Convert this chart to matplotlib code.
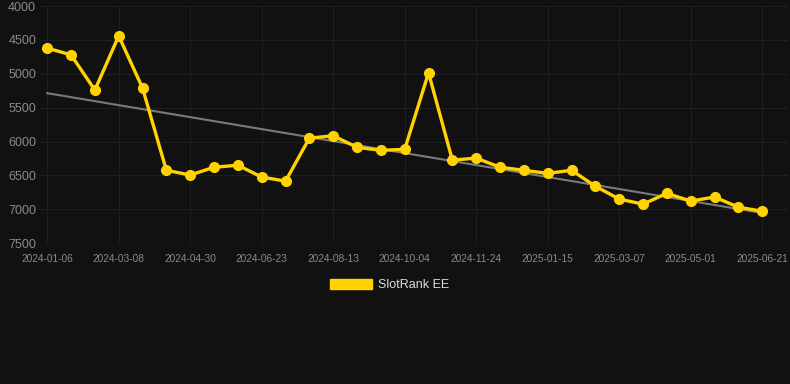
import numpy as np
import matplotlib

matplotlib.use("Agg")
import matplotlib.pyplot as plt
from matplotlib.patches import Patch

# rank values, one point per sample (31 samples)
ranks = [
    4620, 4720, 5240, 4440, 5210, 6425, 6495, 6380, 6350, 6525,
    6585, 5950, 5915, 6085, 6130, 6115, 4985, 6275, 6245, 6380,
    6425, 6470, 6425, 6660, 6850, 6925, 6765, 6880, 6820, 6970, 7030,
]
tick_labels = [
    "2024-01-06", "2024-03-08", "2024-04-30", "2024-06-23", "2024-08-13",
    "2024-10-04", "2024-11-24", "2025-01-15", "2025-03-07", "2025-05-01",
    "2025-06-21",
]
y_ticks = [4000, 4500, 5000, 5500, 6000, 6500, 7000, 7500]
series_name = "SlotRank EE"

BG = "#111111"
GOLD = "#FFD200"

plt.rcParams["font.family"] = ["Liberation Sans", "DejaVu Sans"]

x = np.arange(len(ranks))
slope, icpt = np.polyfit(x, ranks, 1)

fig = plt.figure(figsize=(7.9, 3.84), dpi=100, facecolor=BG)
ax = fig.add_axes([0.051, 0.367, 0.947, 0.617], facecolor=BG)

ax.plot(x, slope * x + icpt, "-", color="#7a7a7a", lw=1.5, zorder=2)
ax.plot(x, ranks, "-o", color=GOLD, lw=2.4, ms=7, zorder=3)

ax.set_ylim(7500, 4000)
ax.set_xlim(-0.29, 31.1)
ax.set_yticks(y_ticks)
ax.set_xticks(x[::3])
ax.set_xticklabels(tick_labels)
ax.grid(color="#1f1f1f", lw=0.8)
for s in ax.spines.values():
    s.set_visible(False)
ax.tick_params(axis="y", length=0, labelsize=9, labelcolor="#8a8a8a", pad=3)
ax.tick_params(axis="x", length=0, labelsize=7.3,
               labelcolor="#8a8a8a", pad=8)

fig.legend(handles=[Patch(color=GOLD)], labels=[series_name],
           loc="center", bbox_to_anchor=(0.493, 0.258), frameon=False,
           handlelength=3.4, handleheight=0.9, handletextpad=0.5,
           fontsize=9, labelcolor="#dddddd")

fig.savefig("out.png", dpi=100, facecolor=BG)
